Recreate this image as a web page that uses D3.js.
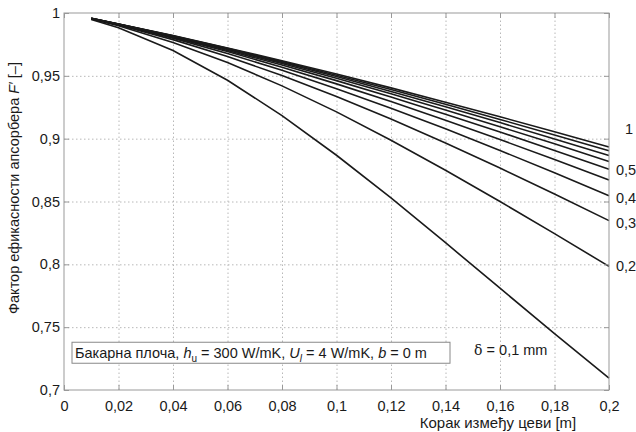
<!DOCTYPE html>
<html lang="sr">

<head>
  <meta charset="UTF-8">
  <title>Фактор ефикасности апсорбера</title>
  <script src="https://d3js.org/d3.v7.min.js"></script>
  <style>
    body {
      margin: 0;
      background: #fff;
    }

    svg text {
      font-family: "Liberation Sans", Arial, sans-serif;
      font-size: 14.5px;
      fill: #1a1a1a;
    }

    .curve {
      fill: none;
      stroke: #1a1a1a;
      stroke-width: 1.6;
    }

    .grid line {
      stroke: #b8b8b8;
      stroke-width: 1;
      stroke-dasharray: 1.5, 2.5;
    }

    .grid path,
    .ticks path {
      display: none;
    }

    .ticks line {
      stroke: #999;
    }

    .frame {
      fill: none;
      stroke: #999;
      stroke-width: 1;
    }
  </style>
</head>

<body>
  <svg width="636" height="432">
    <g id="chart" transform="translate(64, 13)"></g>
  </svg>

  <script>
    // tube spacing W [m]
    const spacing = [0.01, 0.02, 0.04, 0.06, 0.08, 0.10, 0.12, 0.14, 0.16, 0.18, 0.20];

    // F' for each plate thickness (delta in mm)
    const f01 = [0.9949, 0.9882, 0.9701, 0.9465, 0.9184, 0.8868, 0.8528, 0.8172, 0.7810, 0.7449, 0.7095];
    const f02 = [0.9953, 0.9899, 0.9766, 0.9606, 0.9420, 0.9213, 0.8988, 0.8749, 0.8500, 0.8244, 0.7984];
    const f03 = [0.9955, 0.9904, 0.9788, 0.9654, 0.9502, 0.9335, 0.9156, 0.8965, 0.8766, 0.8559, 0.8348];
    const f04 = [0.9956, 0.9907, 0.9800, 0.9678, 0.9544, 0.9398, 0.9242, 0.9078, 0.8906, 0.8729, 0.8546];
    const f05 = [0.9956, 0.9909, 0.9806, 0.9693, 0.9569, 0.9436, 0.9295, 0.9147, 0.8993, 0.8834, 0.8671];
    const f06 = [0.9956, 0.9910, 0.9811, 0.9702, 0.9586, 0.9462, 0.9331, 0.9194, 0.9053, 0.8906, 0.8756];
    const f07 = [0.9957, 0.9911, 0.9814, 0.9709, 0.9598, 0.9480, 0.9357, 0.9228, 0.9095, 0.8959, 0.8818];
    const f08 = [0.9957, 0.9912, 0.9816, 0.9715, 0.9607, 0.9494, 0.9376, 0.9254, 0.9128, 0.8998, 0.8866];
    const f09 = [0.9957, 0.9912, 0.9818, 0.9719, 0.9614, 0.9505, 0.9391, 0.9274, 0.9153, 0.9030, 0.8903];
    const f10 = [0.9957, 0.9912, 0.9820, 0.9722, 0.9620, 0.9514, 0.9404, 0.9290, 0.9174, 0.9055, 0.8933];

    const deltas = [0.1, 0.2, 0.3, 0.4, 0.5, 0.6, 0.7, 0.8, 0.9, 1.0];
    const curves = [f01, f02, f03, f04, f05, f06, f07, f08, f09, f10];

    const xTicks = [0, 0.02, 0.04, 0.06, 0.08, 0.1, 0.12, 0.14, 0.16, 0.18, 0.2];
    const yTicks = [0.7, 0.75, 0.8, 0.85, 0.9, 0.95, 1];

    // curve labels on the right side: text and the F' level it sits at
    const endLabels = ['1', '0,5', '0,4', '0,3', '0,2'];
    const endLabelLevels = [0.9076, 0.875, 0.853, 0.833, 0.799];

    const width = 545;
    const height = 377;

    const svg = d3.select('svg');
    const chart = svg.select('#chart');

    const x = d3.scaleLinear().domain([0, 0.2]).range([0, width]);
    const y = d3.scaleLinear().domain([0.7, 1]).range([height, 0]);

    const fmt = d => String(d).replace('.', ',');

    //grid lines
    chart.append('g')
      .attr('class', 'grid')
      .attr('transform', 'translate(0,' + height + ')')
      .call(d3.axisBottom(x).tickValues(xTicks.slice(1, -1)).tickSize(-height).tickFormat(''));

    chart.append('g')
      .attr('class', 'grid')
      .call(d3.axisLeft(y).tickValues(yTicks.slice(1, -1)).tickSize(-width).tickFormat(''));

    //curves
    const line = d3.line()
      .x((d, i) => x(spacing[i]))
      .y(d => y(d));

    chart.selectAll('.curve')
      .data(curves)
      .enter().append('path')
      .attr('class', 'curve')
      .attr('d', line);

    //axis ticks, pointing inside
    chart.append('g')
      .attr('class', 'ticks')
      .attr('transform', 'translate(0,' + height + ')')
      .call(d3.axisBottom(x).tickValues(xTicks).tickSizeInner(-5).tickSizeOuter(0).tickPadding(11).tickFormat(fmt))
      .selectAll('text').attr('fill', null);

    chart.append('g')
      .attr('class', 'ticks')
      .call(d3.axisTop(x).tickValues(xTicks).tickSizeInner(-5).tickSizeOuter(0).tickFormat(''));

    chart.append('g')
      .attr('class', 'ticks')
      .call(d3.axisLeft(y).tickValues(yTicks).tickSizeInner(-5).tickSizeOuter(0).tickPadding(4).tickFormat(fmt))
      .selectAll('text').attr('fill', null);

    chart.append('g')
      .attr('class', 'ticks')
      .attr('transform', 'translate(' + width + ',0)')
      .call(d3.axisRight(y).tickValues(yTicks).tickSizeInner(-5).tickSizeOuter(0).tickFormat(''));

    chart.selectAll('.ticks text').style('font-size', '14.5px');

    chart.append('rect')
      .attr('class', 'frame')
      .attr('width', width)
      .attr('height', height);

    //labels at the curve ends
    chart.selectAll('.end-label')
      .data(endLabels)
      .enter().append('text')
      .attr('class', 'end-label')
      .attr('x', (d, i) => i === 0 ? width + 16 : width + 7)
      .attr('y', (d, i) => y(endLabelLevels[i]))
      .attr('dy', '0.35em')
      .text(d => d);

    //delta label
    const dl = chart.append('text')
      .attr('x', x(0.1505))
      .attr('y', y(0.728));
    dl.append('tspan').style('font-family', 'DejaVu Serif, serif').style('font-size', '14px').text('δ');
    dl.append('tspan').text(' = 0,1 mm');

    //material box
    chart.append('rect')
      .attr('x', 8)
      .attr('y', y(0.738))
      .attr('width', 378)
      .attr('height', 21)
      .attr('fill', '#fff')
      .attr('stroke', '#888');

    const bt = chart.append('text')
      .attr('x', 11)
      .attr('y', y(0.738) + 16);
    bt.append('tspan').text('Бакарна плоча, ');
    bt.append('tspan').style('font-style', 'italic').text('h');
    bt.append('tspan').attr('dy', 4).style('font-size', '10px').text('u');
    bt.append('tspan').attr('dy', -4).text(' = 300 W/mK, ');
    bt.append('tspan').style('font-style', 'italic').text('U');
    bt.append('tspan').attr('dy', 4).style('font-size', '10px').style('font-style', 'italic').text('l');
    bt.append('tspan').attr('dy', -4).text(' = 4 W/mK, ');
    bt.append('tspan').style('font-style', 'italic').text('b');
    bt.append('tspan').text(' = 0 m');

    //axis titles
    svg.append('text')
      .attr('text-anchor', 'middle')
      .attr('x', 498)
      .attr('y', 428)
      .style('font-size', '15px')
      .text('Корак између цеви [m]');

    const yt = svg.append('text')
      .attr('text-anchor', 'middle')
      .attr('transform', 'translate(19,188) rotate(-90)');
    yt.append('tspan').text('Фактор ефикасности апсорбера ');
    yt.append('tspan').style('font-style', 'italic').text('F′');
    yt.append('tspan').text(' [–]');
  </script>
</body>

</html>
